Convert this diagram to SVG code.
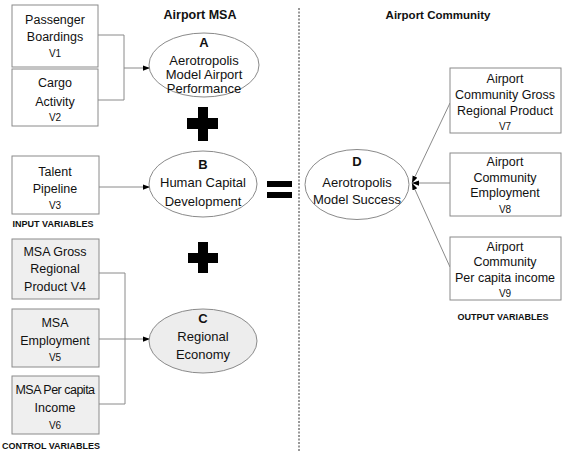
<svg xmlns="http://www.w3.org/2000/svg" width="562" height="452" viewBox="0 0 562 452">
<style>
text{font-family:"Liberation Sans",Arial,sans-serif;fill:#111;text-anchor:middle}
.t{font-size:12.5px}
.e{font-size:13px}
.v{font-size:10px}
.b{font-weight:bold}
.lab{font-size:9px;font-weight:bold}
.box{fill:#fff;stroke:#8a8a8a;stroke-width:1}
.gbox{fill:#efefef;stroke:#8a8a8a;stroke-width:1}
.ell{fill:#fff;stroke:#8a8a8a;stroke-width:1}
.gell{fill:#ededed;stroke:#8a8a8a;stroke-width:1}
.con{fill:none;stroke:#8a8a8a;stroke-width:1}
.sym{fill:#000}
</style>
<defs>
<marker id="ar" viewBox="0 0 8 8" refX="8" refY="4" markerWidth="7" markerHeight="7" markerUnits="userSpaceOnUse" orient="auto">
<path d="M0,1 L8,4 L0,7 z" fill="#000"/>
</marker>
</defs>

<text class="b" x="200" y="19" style="font-size:12.5px">Airport MSA</text>
<text class="b" x="438" y="19" style="font-size:11.5px">Airport Community</text>
<line x1="299" y1="8" x2="299" y2="452" stroke="#333" stroke-width="1" stroke-dasharray="2,1.5"/>

<g id="connectors">
<path class="con" d="M98,35 H124 V100 H98"/>
<path class="con" d="M124,68 H150" marker-end="url(#ar)"/>
<path class="con" d="M99,187 H150" marker-end="url(#ar)"/>
<path class="con" d="M99,273 H125 V404 H99"/>
<path class="con" d="M99,339 H150" marker-end="url(#ar)"/>
<path class="con" d="M450,103 L412,183" marker-end="url(#ar)"/>
<path class="con" d="M450,183 L412,183" marker-end="url(#ar)"/>
<path class="con" d="M450,267 L412,183" marker-end="url(#ar)"/>
</g>

<g id="v1">
<rect class="box" x="12" y="5" width="86" height="62"/>
<text class="t" x="55" y="24">Passenger</text>
<text class="t" x="55" y="41">Boardings</text>
<text class="v" x="55" y="57">V1</text>
</g>
<g id="v2">
<rect class="box" x="12" y="69" width="86" height="57"/>
<text class="t" x="55" y="87">Cargo</text>
<text class="t" x="55" y="106">Activity</text>
<text class="v" x="55" y="121">V2</text>
</g>
<g id="v3">
<rect class="box" x="12" y="156" width="87" height="58"/>
<text class="t" x="55" y="176">Talent</text>
<text class="t" x="55" y="193">Pipeline</text>
<text class="v" x="55" y="209">V3</text>
</g>
<text class="lab" x="53" y="227">INPUT VARIABLES</text>
<g id="v4">
<rect class="gbox" x="12" y="239" width="87" height="60"/>
<text class="t" x="55" y="256">MSA Gross</text>
<text class="t" x="55" y="273">Regional</text>
<text class="t" x="55" y="291">Product V4</text>
</g>
<g id="v5">
<rect class="gbox" x="12" y="309" width="87" height="58"/>
<text class="t" x="55" y="327">MSA</text>
<text class="t" x="55" y="345">Employment</text>
<text class="v" x="55" y="361">V5</text>
</g>
<g id="v6">
<rect class="gbox" x="12" y="376" width="87" height="58"/>
<text class="t" x="55" y="394" style="letter-spacing:-0.5px">MSA Per capita</text>
<text class="t" x="55" y="412">Income</text>
<text class="v" x="55" y="429">V6</text>
</g>
<text class="lab" x="51" y="449">CONTROL VARIABLES</text>

<g id="a">
<ellipse class="ell" cx="204" cy="65" rx="55" ry="32"/>
<text class="e b" x="204" y="47">A</text>
<text class="e" x="204" y="65">Aerotropolis</text>
<text class="e" x="204" y="79">Model Airport</text>
<text class="e" x="204" y="93">Performance</text>
</g>
<g id="b">
<ellipse class="ell" cx="203" cy="184" rx="54" ry="33"/>
<text class="e b" x="203" y="169">B</text>
<text class="e" x="203" y="187">Human Capital</text>
<text class="e" x="203" y="206">Development</text>
</g>
<g id="c">
<ellipse class="gell" cx="203" cy="341" rx="54" ry="32"/>
<text class="e b" x="203" y="323">C</text>
<text class="e" x="203" y="341">Regional</text>
<text class="e" x="203" y="359">Economy</text>
</g>
<g id="d">
<ellipse class="ell" cx="357" cy="184.5" rx="52" ry="35"/>
<text class="e b" x="357" y="166">D</text>
<text class="e" x="357" y="187">Aerotropolis</text>
<text class="e" x="357" y="204">Model Success</text>
</g>

<g id="plus1" class="sym">
<rect x="198" y="107" width="10" height="34"/>
<rect x="187" y="118" width="31" height="11"/>
</g>
<g id="plus2" class="sym">
<rect x="198" y="242" width="10" height="31"/>
<rect x="188" y="253" width="30" height="10"/>
</g>
<g id="equals" class="sym">
<rect x="267" y="181" width="25" height="6"/>
<rect x="267" y="192" width="25" height="6"/>
</g>

<g id="v7">
<rect class="box" x="450" y="68" width="111" height="65"/>
<text class="t" x="505" y="83">Airport</text>
<text class="t" x="505" y="99">Community Gross</text>
<text class="t" x="505" y="115">Regional Product</text>
<text class="v" x="505" y="130">V7</text>
</g>
<g id="v8">
<rect class="box" x="450" y="153" width="111" height="63"/>
<text class="t" x="505" y="166">Airport</text>
<text class="t" x="505" y="182">Community</text>
<text class="t" x="505" y="197">Employment</text>
<text class="v" x="505" y="213">V8</text>
</g>
<g id="v9">
<rect class="box" x="450" y="237" width="111" height="63"/>
<text class="t" x="505" y="251">Airport</text>
<text class="t" x="505" y="266">Community</text>
<text class="t" x="505" y="282">Per capita income</text>
<text class="v" x="505" y="297">V9</text>
</g>
<text class="lab" x="503" y="320">OUTPUT VARIABLES</text>
</svg>
